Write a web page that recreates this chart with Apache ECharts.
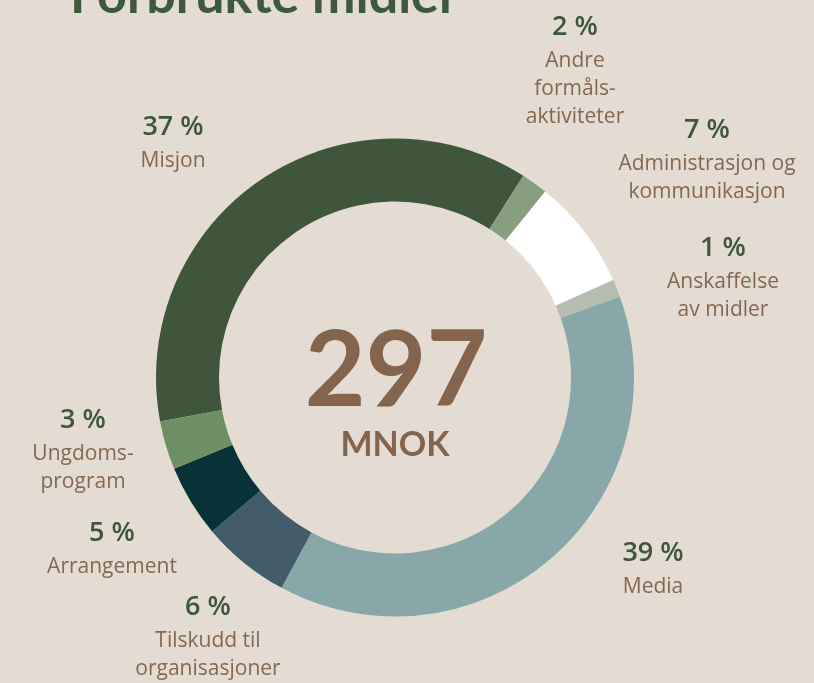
<!DOCTYPE html>
<html>
<head>
<meta charset="utf-8">
<script src="https://cdn.jsdelivr.net/npm/echarts@6/dist/echarts.min.js"></script>
<style>
  html, body { margin: 0; padding: 0; background: #e4dcd2; }
  #chart { width: 814px; height: 683px; }
</style>
</head>
<body>
<div id="chart"></div>
<script>
// share of spent funds (percent)
const categories = ['Misjon', 'Andre\nformåls-\naktiviteter', 'Administrasjon og\nkommunikasjon', 'Anskaffelse\nav midler', 'Media', 'Tilskudd til\norganisasjoner', 'Arrangement', 'Ungdoms-\nprogram']
const values = [37.0, 1.8, 7.5, 1.2, 38.4, 6.0, 4.9, 3.3]
const percentLabels = ['37 %', '2 %', '7 %', '1 %', '39 %', '6 %', '5 %', '3 %']
const colors = ['#40563a', '#879e7f', '#ffffff', '#b5bdb0', '#88a7a9', '#425c69', '#073338', '#6d8f63']
const totalLabel = '297'
const unitLabel = 'MNOK'

// hand placed label spots (x centre, top)
const labelSpots = [
    [173, 107], [575, 7], [707, 110], [723, 228],
    [653, 533], [208, 587], [112, 513], [83, 400]
]

const chart = echarts.init(document.getElementById('chart'))

chart.setOption({
    backgroundColor: '#e4dcd2',
    animation: false,
    textStyle: { fontFamily: 'Open Sans' },
    graphic: [
        {
            type: 'text', left: 70, top: -30,
            style: { text: 'Forbrukte midler', font: 'bold 52px Lato', fill: '#3f5a3a' }
        },
        {
            type: 'text', x: 396, y: 372,
            style: { text: totalLabel, font: 'bold 105px Lato', fill: '#83654d', align: 'center', verticalAlign: 'middle' }
        },
        {
            type: 'text', x: 395, y: 445,
            style: { text: unitLabel, font: 'bold 34px Lato', fill: '#83654d', align: 'center', verticalAlign: 'middle' }
        }
    ],
    series: [{
        type: 'pie',
        center: [395, 377.5],
        radius: [176, 239],
        startAngle: 190.6,
        clockwise: true,
        silent: true,
        emphasis: { disabled: true },
        itemStyle: { borderWidth: 0 },
        labelLine: { show: false },
        label: {
            show: true,
            position: 'outside',
            overflow: 'none',
            formatter: p => '{p|' + percentLabels[p.dataIndex] + '}\n{n|' + p.name.split('\n').join('}\n{n|') + '}',
            rich: {
                p: { fontSize: 27, fontWeight: 600, color: '#3f5639', lineHeight: 40, align: 'center', fontFamily: 'Open Sans' },
                n: { fontSize: 21, color: '#86674f', lineHeight: 28, align: 'center', fontFamily: 'Open Sans' }
            }
        },
        labelLayout: p => ({
            x: labelSpots[p.dataIndex][0],
            y: labelSpots[p.dataIndex][1],
            align: 'center',
            verticalAlign: 'top'
        }),
        data: categories.map((c, i) => ({ name: c, value: values[i], itemStyle: { color: colors[i] } }))
    }]
})
</script>
</body>
</html>
